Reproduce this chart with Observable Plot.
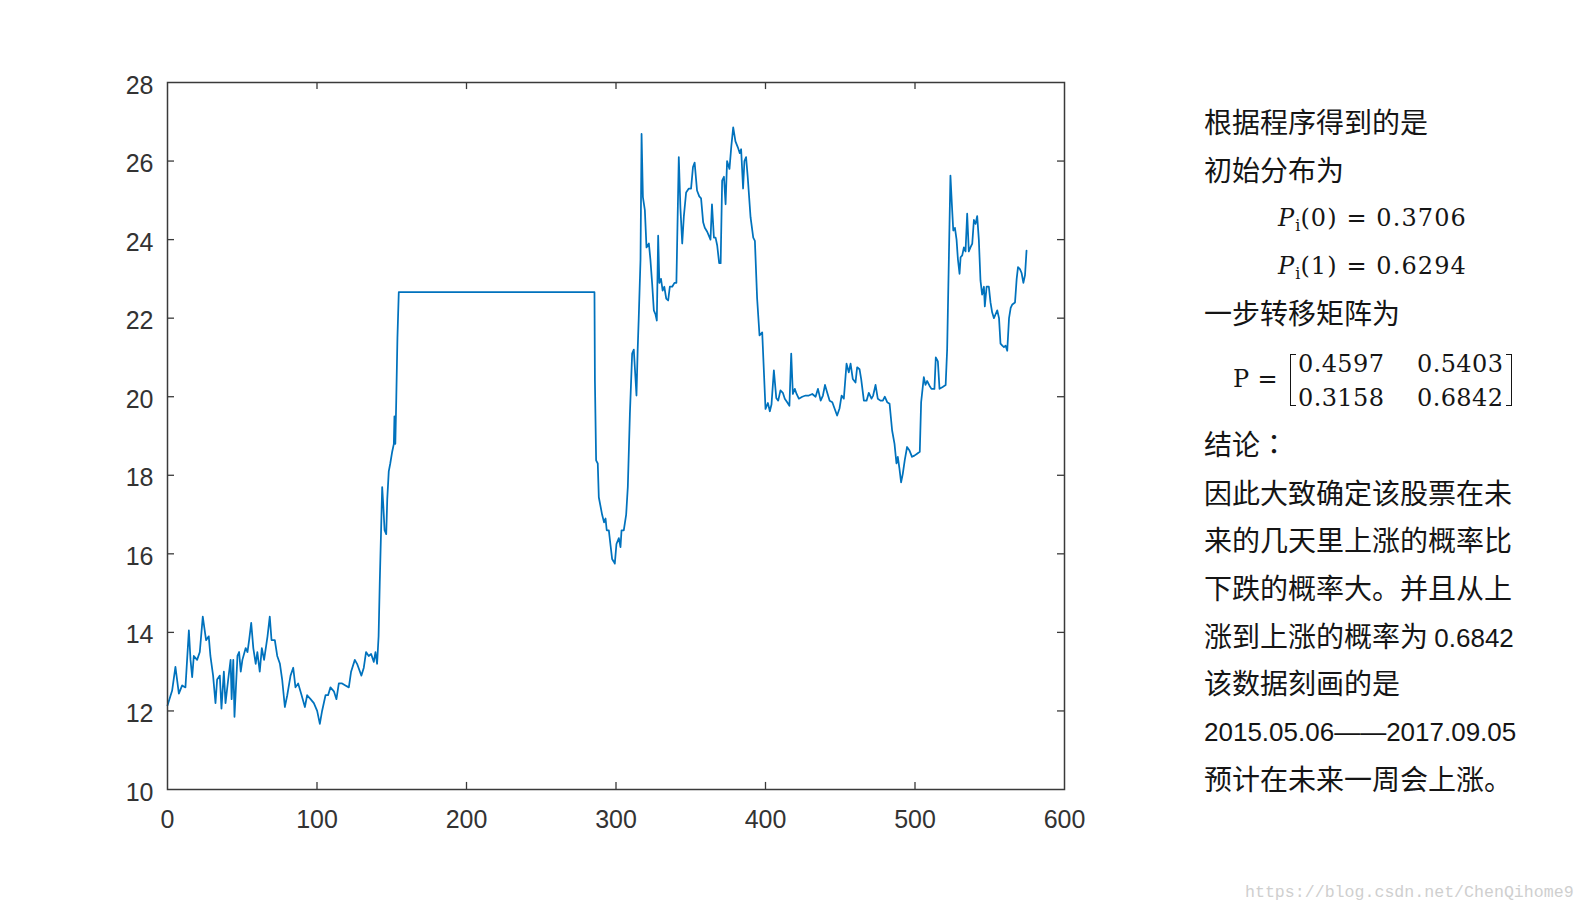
<!DOCTYPE html>
<html>
<head>
<meta charset="utf-8">
<script src="https://cdn.jsdelivr.net/npm/d3@7"></script>
<script src="https://cdn.jsdelivr.net/npm/@observablehq/plot@0.6"></script>
<style>
  html, body { margin: 0; padding: 0; background: #fff; }
  #wrap { position: relative; width: 1587px; height: 912px; overflow: hidden; background: #fff; }
  #chart { position: absolute; left: 0; top: 0; }
  .t { position: absolute; white-space: nowrap; color: #151515; height: 40px; line-height: 40px;
       font-family: "Noto Sans CJK SC", sans-serif; font-size: 28px; }
  .tc { font-family: "Noto Sans CJK TC", sans-serif; }
  .num { font-family: "Liberation Sans", Arial, sans-serif; font-size: 26px; }
  .m { position: absolute; white-space: nowrap; color: #151515; height: 34px; line-height: 34px;
       font-family: "DejaVu Serif", serif; font-size: 24px; letter-spacing: 0.4px; }
  .m.wide { letter-spacing: 1.1px; }
  .m i { font-style: italic; }
  .m sub { font-size: 16px; vertical-align: -5px; letter-spacing: 0; }
  .br { position: absolute; border: 1.6px solid #151515; width: 5px; height: 50px; }
  #wm { position: absolute; left: 1245px; top: 883px; font-family: "Liberation Mono", monospace;
        font-size: 16.6px; color: #cfcfcf; white-space: nowrap; }
</style>
</head>
<body>
<div id="wrap">
  <div id="chart"></div>
  <div class="t" style="left:1204px; top:101px;">根据程序得到的是</div>
  <div class="t" style="left:1204px; top:149px;">初始分布为</div>
  <div class="m wide" style="left:1278px; top:201px;"><i>P</i><sub>i</sub>(0) = 0.3706</div>
  <div class="m wide" style="left:1278px; top:249px;"><i>P</i><sub>i</sub>(1) = 0.6294</div>
  <div class="t" style="left:1204px; top:292px;">一步转移矩阵为</div>
  <div class="m" style="left:1233px; top:362px;">P =</div>
  <div class="br" style="left:1290px; top:354px; border-right:none;"></div>
  <div class="m" style="left:1298px; top:347px;">0.4597</div>
  <div class="m" style="left:1417px; top:347px;">0.5403</div>
  <div class="m" style="left:1298px; top:381px;">0.3158</div>
  <div class="m" style="left:1417px; top:381px;">0.6842</div>
  <div class="br" style="left:1506px; top:354px; border-left:none;"></div>
  <div class="t" style="left:1204px; top:423px;">结论<span class="tc">：</span></div>
  <div class="t" style="left:1204px; top:472px;">因此大致确定该股票在未</div>
  <div class="t" style="left:1204px; top:519px;">来的几天里上涨的概率比</div>
  <div class="t" style="left:1204px; top:567px;">下跌的概率大。并且从上</div>
  <div class="t" style="left:1204px; top:615px;">涨到上涨的概率为 <span class="num">0.6842</span></div>
  <div class="t" style="left:1204px; top:662px;">该数据刻画的是</div>
  <div class="t" style="left:1204px; top:709px;"><span class="num">2015.05.06——2017.09.05</span></div>
  <div class="t" style="left:1204px; top:758px;">预计在未来一周会上涨。</div>
  <div id="wm">https://blog.csdn.net/ChenQihome9</div>
</div>
<script>
// Tick values
const xTicks = [0, 100, 200, 300, 400, 500, 600];
const yTicks = [10, 12, 14, 16, 18, 20, 22, 24, 26, 28];

// Series: trading-day index and closing price
const dayIndex = [
  0, 3.1, 5.3, 7.6, 9.8, 12, 14.3, 15.4, 16.5, 17.6, 19.8, 21.6, 23.6, 25.8, 27.6, 28.7, 30.5, 32.1, 33.2, 35,
  36.1, 37.7, 38.8, 40.6, 42.2, 42.9, 44, 44.8, 46.8, 47.9, 49, 50.1, 52.3, 53.5, 54.6, 56, 57.4, 59, 60.1, 61.7,
  63.1, 64.6, 66.9, 68.4, 69.6, 71.8, 73.4, 75.2, 76.7, 78.5, 80.1, 82.3, 84.1, 85.6, 87.4, 89.7, 91.9, 93.4, 95.7, 97.9,
  100.1, 101.9, 103.4, 105.7, 107.4, 109, 111.3, 113, 114.6, 116.8, 119, 121.3, 122.8, 125.3, 126.8, 129.7, 131.3, 132.8, 134.6, 136.2,
  138, 139.1, 140.2, 141.2, 142, 143.6, 144.4, 145.2, 146.3, 147, 148, 149, 150.3, 151.4, 151.8, 152.4, 153, 153.8, 154.7,
  285.6, 285.9, 286.7, 287.8, 288.5, 290.7, 292, 293, 293.8, 295.2, 296.4, 297.4, 298.5, 299.2, 300.3, 301.9, 303, 303.7, 305.2, 306.8,
  307.9, 309.3, 310.8, 311.9, 312.6, 313.7, 314.5, 315.2, 316.4, 317.1, 318, 319.3, 320.4, 322, 323, 324.2, 325.3, 326.4, 327.3, 328.2,
  329, 330.1, 331.2, 332.3, 333.6, 334.9, 336, 337.6, 339.1, 340.4, 342, 343.1, 344.3, 345.4, 346.9, 348.7, 350.2, 351.5, 352.6, 354.2,
  355.7, 356.9, 358.3, 359.4, 361, 362.1, 363.2, 364.2, 365.5, 366.6, 367.7, 369, 370, 371, 372.2, 373.3, 374.3, 375.9, 377.1, 378.4,
  379.9, 381.5, 382.8, 383.7, 385, 385.9, 387, 388.1, 390, 391.8, 392.9, 394.4, 396, 397.8, 400, 401.6, 402.9, 404, 405.6, 407.2,
  408.5, 410, 411.6, 412.9, 414.5, 416, 417.2, 418.3, 419.6, 420.8, 422.3, 424.6, 426.8, 429, 431.3, 433.5, 435.1, 436.9, 438.4, 439.8,
  441.3, 442.9, 444.7, 446.2, 447.9, 449.5, 450.9, 452.4, 454.2, 455.7, 456.9, 458.4, 460.2, 461.3, 462.9, 464, 465.8, 467.6, 469.1, 470.9,
  472, 473.6, 475.1, 476.9, 478.5, 479.8, 481.4, 483, 484.7, 486.3, 487.6, 488.5, 489.6, 490.7, 491.8, 493.2, 494.7, 496.2, 498, 499.6,
  501.4, 503.2, 504.1, 505.9, 507, 508.1, 509.7, 511, 513, 513.9, 515.3, 516.4, 518.5, 520.5, 521.5, 523.7, 524.8, 525.6, 526.7, 527.8,
  528.7, 529.8, 530.5, 531.6, 532.7, 533.8, 534.9, 536, 537.1, 538.3, 539.4, 540.5, 541.6, 542.7, 543.8, 544.9, 546.1, 546.7, 547.9, 549.4,
  550.5, 551.6, 552.8, 553.9, 555, 556.2, 557.2, 558.4, 559.5, 560.6, 561.7, 562.9, 564, 565.1, 566.9, 568, 568.9, 570.2, 571.3, 572.5,
  573.6, 574.6
];
const price = [
  12.14, 12.52, 13.12, 12.44, 12.65, 12.6, 14.05, 13.3, 12.86, 13.4, 13.3, 13.5, 14.4, 13.8, 13.9, 13.4, 12.9, 12.2, 12.8, 12.9,
  12.06, 13.0, 12.2, 12.8, 13.3, 12.3, 13.3, 11.85, 13.4, 13.5, 13.0, 13.3, 13.6, 13.5, 13.8, 14.24, 13.6, 13.2, 13.5, 13.0,
  13.6, 13.3, 13.9, 14.4, 13.8, 13.8, 13.4, 13.2, 12.8, 12.1, 12.4, 12.9, 13.1, 12.6, 12.7, 12.4, 12.1, 12.4, 12.3, 12.2,
  12.0, 11.67, 12.0, 12.4, 12.4, 12.6, 12.5, 12.3, 12.7, 12.7, 12.65, 12.6, 13.0, 13.3, 13.2, 12.9, 13.1, 13.5, 13.4, 13.45,
  13.25, 13.5, 13.2, 13.9, 15.3, 17.7, 17.2, 16.6, 16.5, 17.4, 18.1, 18.3, 18.6, 18.8, 19.5, 18.8, 19.9, 21.5, 22.66,
  22.66, 20.4, 18.38, 18.3, 17.44, 17.0, 16.8, 16.9, 16.6, 16.6, 16.2, 15.87, 15.8, 15.75, 16.25, 16.4, 16.17, 16.6, 16.6, 17.0,
  17.7, 19.57, 21.1, 21.2, 20.75, 20.03, 21.2, 22.0, 23.5, 26.69, 25.08, 24.75, 23.8, 23.9, 23.5, 22.87, 22.2, 22.1, 21.94, 24.1,
  22.9, 23.0, 22.7, 22.8, 22.5, 22.45, 22.8, 22.8, 22.9, 22.9, 26.1, 24.8, 23.9, 24.6, 25.2, 25.3, 25.3, 25.85, 25.96, 25.25,
  25.1, 25.05, 24.44, 24.3, 24.2, 24.1, 24.0, 24.9, 24.05, 24.05, 23.85, 23.4, 23.4, 25.5, 25.6, 24.9, 26.0, 25.8, 26.36, 26.86,
  26.5, 26.35, 26.2, 26.3, 25.3, 26.0, 26.1, 25.6, 24.57, 24.05, 23.97, 22.5, 21.56, 21.64, 19.69, 19.84, 19.63, 19.8, 20.67, 19.97,
  19.9, 20.16, 20.1, 19.95, 19.86, 19.77, 21.1, 20.07, 20.2, 20.07, 19.95, 20.0, 20.03, 20.03, 20.07, 20.0, 20.2, 19.9, 20.03, 20.3,
  20.1, 19.9, 19.86, 19.7, 19.52, 19.7, 20.03, 19.95, 20.84, 20.62, 20.84, 20.45, 20.36, 20.75, 20.7, 20.45, 19.9, 19.9, 20.1, 19.95,
  20.03, 20.3, 19.95, 19.9, 19.9, 20.0, 19.86, 19.82, 19.14, 18.8, 18.3, 18.47, 18.17, 17.82, 18.03, 18.4, 18.72, 18.64, 18.47, 18.5,
  18.55, 18.6, 19.86, 20.5, 20.3, 20.4, 20.28, 20.2, 20.2, 21.0, 20.9, 20.2, 20.25, 20.3, 21.2, 25.63, 24.8, 24.23, 24.3, 24.0,
  23.5, 23.13, 23.55, 23.6, 23.8, 23.7, 24.66, 23.7, 23.8, 23.9, 24.5, 24.4, 24.6, 24.0, 22.96, 22.6, 22.8, 22.3, 22.8, 22.8,
  22.4, 22.15, 22.0, 22.1, 22.2, 22.0, 21.35, 21.3, 21.26, 21.3, 21.17, 22.0, 22.26, 22.35, 22.4, 23.0, 23.3, 23.25, 23.15, 22.9,
  23.1, 23.72
];

const series = dayIndex.map((d, i) => ({day: d, value: price[i]}));

const axisColor = "#3a3a3a";
const yTickLen = 0.18;  // inward tick length in y units (~7px)
const xTickLen = 4.7;   // inward tick length in x units (~7px)

const chart = Plot.plot({
  width: 1100,
  height: 912,
  marginLeft: 167,
  marginRight: 36,
  marginTop: 82,
  marginBottom: 123,
  x: {domain: [0, 600], label: null},
  y: {domain: [10, 28], label: null},
  style: {fontFamily: "'Liberation Sans', Arial, sans-serif", fontSize: "25px", color: "#333", background: "transparent"},
  marks: [
    Plot.line(series, {x: "day", y: "value", stroke: "#0072BD", strokeWidth: 1.75, strokeLinejoin: "round"}),
    Plot.frame({stroke: axisColor, strokeWidth: 1.5}),
    Plot.ruleX(xTicks.slice(1, -1), {x: d => d, y1: 10, y2: 10 + yTickLen, stroke: axisColor, strokeWidth: 1.3}),
    Plot.ruleX(xTicks.slice(1, -1), {x: d => d, y1: 28, y2: 28 - yTickLen, stroke: axisColor, strokeWidth: 1.3}),
    Plot.ruleY(yTicks.slice(1, -1), {y: d => d, x1: 0, x2: xTickLen, stroke: axisColor, strokeWidth: 1.3}),
    Plot.ruleY(yTicks.slice(1, -1), {y: d => d, x1: 600, x2: 600 - xTickLen, stroke: axisColor, strokeWidth: 1.3}),
    Plot.axisX({ticks: xTicks, tickSize: 0, tickPadding: 21, fontSize: 25, label: null, tickFormat: d => String(d)}),
    Plot.axisY({ticks: yTicks, tickSize: 0, tickPadding: 14, dy: 3, fontSize: 25, label: null, tickFormat: d => String(d)})
  ]
});
document.getElementById("chart").appendChild(chart);
</script>
</body>
</html>
